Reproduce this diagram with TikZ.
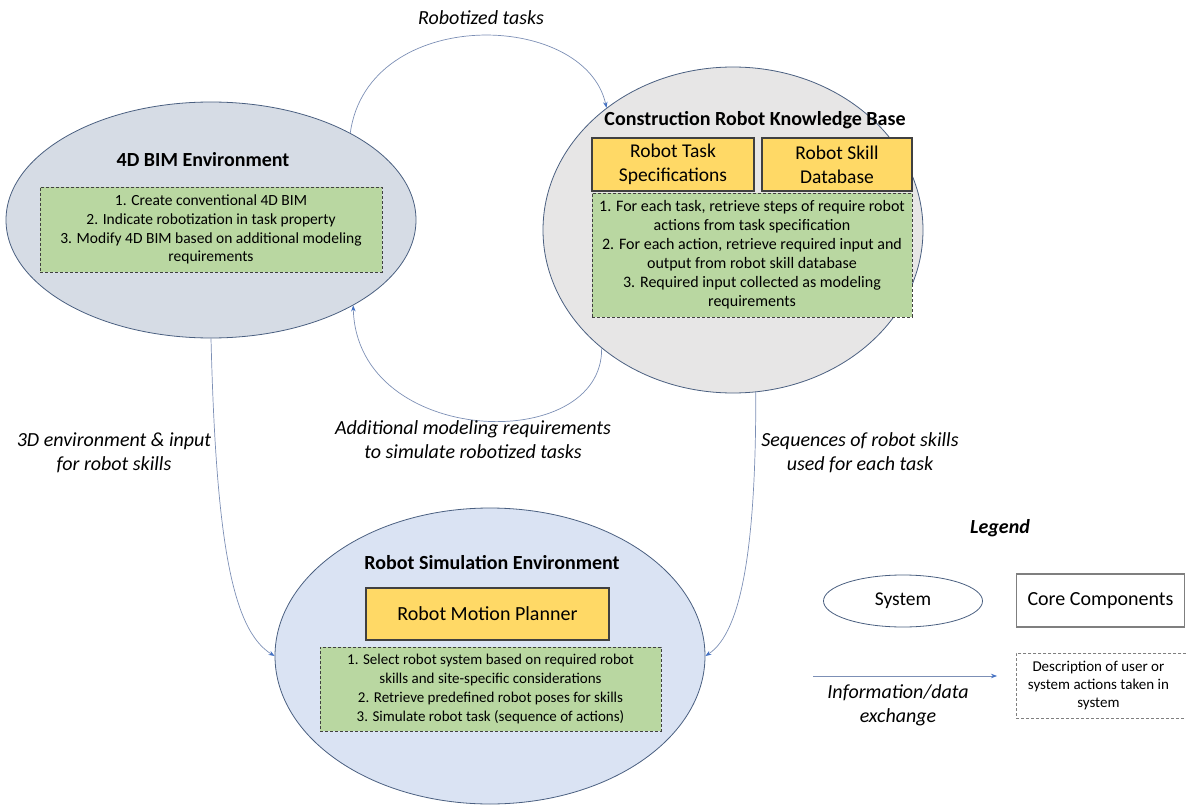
\documentclass[tikz,border=0pt]{standalone}
\usepackage{fontspec}
\setmainfont{Carlito}
\usetikzlibrary{shapes.geometric,arrows.meta}
\definecolor{bimfill}{HTML}{D6DCE5}
\definecolor{kbfill}{HTML}{E7E6E6}
\definecolor{simfill}{HTML}{DAE3F3}
\definecolor{edgec}{HTML}{4A5F80}
\definecolor{yelf}{HTML}{FFD966}
\definecolor{yelb}{HTML}{404040}
\definecolor{grnf}{HTML}{B9D7A1}
\definecolor{grnb}{HTML}{404040}
\definecolor{flowc}{HTML}{7C8FB5}
\definecolor{flowtip}{HTML}{4472C4}
\definecolor{legb}{HTML}{7F7F7F}
\begin{document}
\begin{tikzpicture}[x=1pt,y=-1pt,
  sys/.style={ellipse, draw=edgec, line width=0.8pt, inner sep=0pt},
  ttl/.style={font=\bfseries\fontsize{20}{24}\selectfont},
  yel/.style={draw=yelb, fill=yelf, line width=1.2pt, align=center, inner sep=0pt, font=\fontsize{19.5}{24}\selectfont},
  grn/.style={draw=grnb, fill=grnf, dash pattern=on 3pt off 2pt, line width=0.8pt, align=center, inner sep=0pt},
  flow/.style={draw=flowc, line width=0.7pt, -{Stealth[length=6pt,width=4.5pt,color=flowtip]}},
  lab/.style={font=\itshape\fontsize{20}{24}\selectfont, align=center}]
\useasboundingbox (0,0) rectangle (1186,805);

% systems
\node[sys, fill=bimfill, minimum width=410pt, minimum height=236pt] (bim) at (211,220) {};
\node[sys, fill=kbfill, minimum width=380pt, minimum height=326pt] (kb) at (733,230) {};
\node[sys, fill=simfill, minimum width=430pt, minimum height=296pt] (sim) at (490,656) {};

% 4D BIM
\node[ttl] (bimt) at (203,160) {4D BIM Environment};
\node[grn, minimum width=342pt, minimum height=85pt, font=\fontsize{15.5}{18.8}\selectfont] (bimg) at (211,229.5) {1. Create conventional 4D BIM\\2. Indicate robotization in task property\\3. Modify 4D BIM based on additional modeling\\requirements};

% Knowledge base
\node[ttl] (kbt) at (755,120) {Construction Robot Knowledge Base};
\node[yel, minimum width=162pt, minimum height=53pt] (rts) at (673,164.5) {Robot Task\\Specifications};
\node[yel, minimum width=150pt, minimum height=53pt] (rsd) at (837,164.5) {Robot Skill\\Database};
\node[grn, minimum width=320pt, minimum height=124pt, font=\fontsize{16}{19}\selectfont] (kbg) at (752,255) {1. For each task, retrieve steps of require robot\\actions from task specification\\2. For each action, retrieve required input and\\output from robot skill database\\3. Required input collected as modeling\\requirements};

% Simulation
\node[ttl] (simt) at (492,563) {Robot Simulation Environment};
\node[yel, minimum width=243pt, minimum height=52pt, font=\fontsize{20}{24}\selectfont] (rmp) at (487.5,614) {Robot Motion Planner};
\node[grn, minimum width=341pt, minimum height=84pt, font=\fontsize{15}{18.9}\selectfont] (simg) at (490.5,689) {1. Select robot system based on required robot\\skills and site-specific considerations\\2. Retrieve predefined robot poses for skills\\3. Simulate robot task (sequence of actions)};

% connectors
\draw[flow] (bim.32) .. controls (368,5) and (585,10) .. (kb.136);
\draw[flow] (kb.-138) .. controls (603,455) and (357,448) .. (bim.-31);
\draw[flow] (bim.-90) .. controls (216,540) and (232,630) .. (sim.180);
\draw[flow] (kb.-82) .. controls (756,545) and (742,632) .. (sim.0);

% labels
\node[lab] (l1) at (481,18) {Robotized tasks};
\node[lab] (l2) at (473,440) {Additional modeling requirements\\to simulate robotized tasks};
\node[lab] (l3) at (114,453) {3D environment \& input\\for robot skills};
\node[lab] (l4) at (860,453) {Sequences of robot skills\\used for each task};

% legend
\node[font=\bfseries\itshape\fontsize{20}{24}\selectfont] (leg) at (1000,528) {Legend};
\node[ellipse, draw=edgec, line width=0.8pt, minimum width=159pt, minimum height=52pt, inner sep=0pt, font=\fontsize{19.5}{22}\selectfont] (lsys) at (903,601) {System};
\node[draw=legb, line width=1.2pt, minimum width=168pt, minimum height=53pt, inner sep=0pt, font=\fontsize{20}{24}\selectfont] (lcore) at (1100.5,600.5) {Core Components};
\node[draw=legb, dash pattern=on 3pt off 2pt, line width=0.8pt, minimum width=180pt, minimum height=65pt, inner sep=0pt, align=center, font=\fontsize{15}{17.8}\selectfont, anchor=west] (ldesc) at (1016,685.5) {\hspace*{-16pt}Description of user or\\\hspace*{-16pt}system actions taken in\\\hspace*{-16pt}system};
\coordinate (la) at (813,676);
\coordinate (lb) at (997,676);
\draw[flow] (la) -- (lb);
\node[lab] (linfo) at (898,705) {Information/data\\exchange};
\end{tikzpicture}
\end{document}
